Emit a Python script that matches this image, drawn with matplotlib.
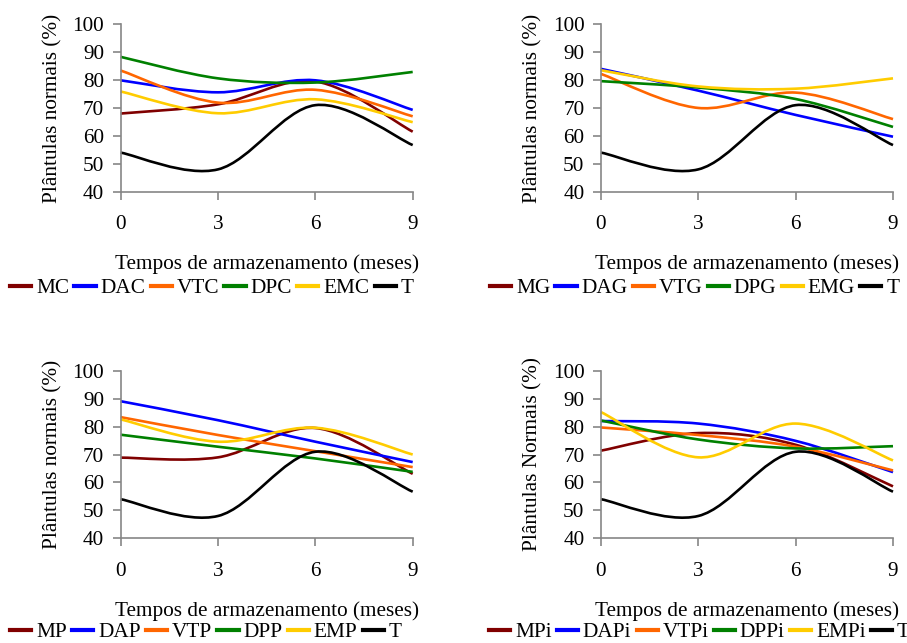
import matplotlib
matplotlib.use('Agg')
import matplotlib.pyplot as plt
from matplotlib.path import Path
from matplotlib.patches import PathPatch
from matplotlib.lines import Line2D

plt.rcParams['font.family'] = ['Liberation Serif', 'DejaVu Serif']
plt.rcParams['font.size'] = 15.3

# storage time (months)
meses = [0, 3, 6, 9]

# control, shared by all four panels
T = [54.0, 48.0, 71.0, 56.7]

# panel C
MC = [68.0, 71.3, 79.5, 61.5]
DAC = [79.9, 75.6, 79.9, 69.3]
VTC = [83.4, 71.9, 76.5, 67.0]
DPC = [88.3, 80.6, 79.1, 82.9]
EMC = [75.9, 68.1, 73.1, 64.9]

# panel G (MG has no curve drawn)
MG = []
DAG = [84.0, 76.2, 67.5, 59.7]
VTG = [82.2, 70.0, 75.5, 66.0]
DPG = [79.6, 77.3, 73.2, 63.2]
EMG = [83.5, 77.7, 76.9, 80.6]

# panel P
MP = [68.9, 69.0, 79.5, 63.1]
DAP = [89.1, 82.3, 74.6, 67.3]
VTP = [83.4, 77.0, 71.2, 65.5]
DPP = [77.1, 72.8, 68.6, 63.8]
EMP = [82.6, 74.6, 79.6, 70.0]

# panel Pi
MPi = [71.4, 77.7, 73.5, 58.6]
DAPi = [82.0, 81.1, 74.9, 63.7]
VTPi = [79.7, 77.0, 72.8, 64.3]
DPPi = [82.2, 75.4, 72.2, 73.0]
EMPi = [85.2, 69.0, 81.1, 67.9]

cores = ['#800000', '#0000FF', '#FF6600', '#008000', '#FFCC00', '#000000']


def curva_suave(ax, x, y, cor):
    # smoothed line through the points (cubic bezier, catmull-rom style)
    if len(y) == 0:
        return
    pts = list(zip(x, y))
    n = len(pts)
    verts = [pts[0]]
    codes = [Path.MOVETO]
    for i in range(n - 1):
        p0 = pts[max(i - 1, 0)]
        p1 = pts[i]
        p2 = pts[i + 1]
        p3 = pts[min(i + 2, n - 1)]
        c1 = (p1[0] + (p2[0] - p0[0]) / 6, p1[1] + (p2[1] - p0[1]) / 6)
        c2 = (p2[0] - (p3[0] - p1[0]) / 6, p2[1] - (p3[1] - p1[1]) / 6)
        verts += [c1, c2, p2]
        codes += [Path.CURVE4] * 3
    patch = PathPatch(Path(verts, codes), fill=False, edgecolor=cor,
                      linewidth=1.9, clip_on=False, capstyle='butt')
    ax.add_patch(patch)


fig = plt.figure(figsize=(9.07, 6.43), dpi=100)
W, H = 907.0, 643.0

paineis = [
    (120.7, 191.7, [MC, DAC, VTC, DPC, EMC, T], ['MC', 'DAC', 'VTC', 'DPC', 'EMC', 'T'],
     'Plântulas normais (%)', 10, 288),
    (601.0, 191.7, [MG, DAG, VTG, DPG, EMG, T], ['MG', 'DAG', 'VTG', 'DPG', 'EMG', 'T'],
     'Plântulas normais (%)', 490, 288),
    (120.7, 538.3, [MP, DAP, VTP, DPP, EMP, T], ['MP', 'DAP', 'VTP', 'DPP', 'EMP', 'T'],
     'Plântulas normais (%)', 10, 632),
    (601.0, 538.3, [MPi, DAPi, VTPi, DPPi, EMPi, T], ['MPi', 'DAPi', 'VTPi', 'DPPi', 'EMPi', 'T'],
     'Plântulas Normais (%)', 489, 632),
]

for esq, base, series, nomes, ylab, leg_x, leg_y in paineis:
    ax = fig.add_axes([esq / W, 1 - base / H, 292 / W, 167.5 / H])
    for serie, cor in zip(series, cores):
        curva_suave(ax, meses, serie, cor)
    ax.set_xlim(0, 9)
    ax.set_ylim(40, 100)
    ax.set_xticks(meses)
    ax.set_yticks(range(40, 101, 10))
    for s in ['top', 'right']:
        ax.spines[s].set_visible(False)
    for s in ['left', 'bottom']:
        ax.spines[s].set_color('#868686')
        ax.spines[s].set_linewidth(1.2)
    ax.tick_params(axis='both', colors='#868686', labelcolor='black', length=6, width=1.2)
    ax.tick_params(axis='y', pad=6)
    ax.tick_params(axis='x', pad=11)
    ax.set_ylabel(ylab)
    ax.yaxis.set_label_coords(-0.20, 0.5)
    ax.set_xlabel('Tempos de armazenamento (meses)')
    ax.xaxis.set_label_coords(0.5, -0.375)

    handles = [Line2D([], [], color=c, linewidth=3) for c in cores]
    fig.legend(handles, nomes, loc='center left',
               bbox_to_anchor=(leg_x / W, 1 - leg_y / H), ncol=6, frameon=False,
               borderpad=0, borderaxespad=0, handlelength=1.0, handletextpad=0.22,
               columnspacing=0.25)

fig.savefig('out.png', dpi=100)
